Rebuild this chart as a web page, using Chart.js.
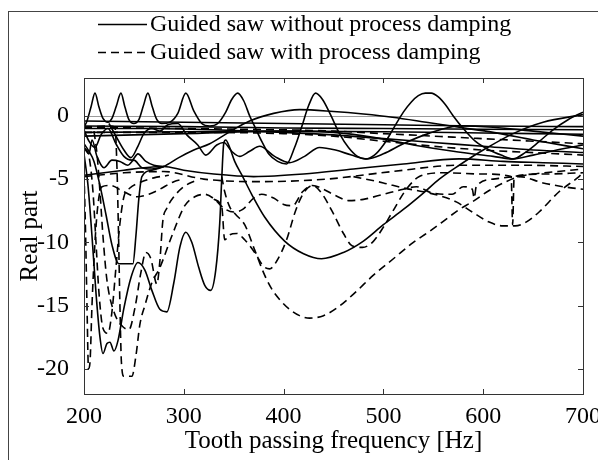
<!DOCTYPE html>
<html>
<head>
<meta charset="utf-8">
<script src="https://cdn.jsdelivr.net/npm/chart.js@4.4.1/dist/chart.umd.min.js"></script>
<style>html,body{margin:0;padding:0;background:#fff;}canvas{display:block;}</style>
</head>
<body>
<canvas id="c" width="598" height="460"></canvas>
<script>
// ---- data: [frequency Hz, real part] ----
const xTicks = [200, 300, 400, 500, 600, 700];
const yTicks = [-20, -15, -10, -5, 0];
const legendLabels = ['Guided saw without process damping', 'Guided saw with process damping'];

// solid curves (without process damping)
const solidPeaks = [[200,-0.9],[203,-0.4],[207,0.7],[211,1.8],[215,0.7],[219,-0.2],[224,-0.5],[228,-0.2],[232.5,0.8],[237,1.8],[241,0.7],[245,-0.3],[250,-0.6],[255,-0.3],[259.5,0.8],[264,1.8],[268.5,0.7],[273,-0.3],[278,-0.6],[286,-0.5],[294,0.2],[302,1.8],[310,0.4],[318,-0.6],[326,-0.8],[334,-0.6],[342,0.3],[348,1.3],[354,1.8],[360,1.2],[366,0.0],[372,-1.0],[378,-2.0],[385,-3.0],[394,-3.6],[403,-3.8],[411,-2.5],[418,-0.9],[425,0.8],[432,1.8],[439,1.3],[447,0.1],[456,-1.4],[465,-2.5],[474,-3.2],[482,-3.4],[491,-3.1],[500,-2.3],[510,-1.0],[520,0.3],[528,1.1],[535,1.6],[542,1.8],[548,1.8],[555,1.5],[562,0.9],[570,0.0],[580,-1.0],[592,-2.0],[606,-2.7],[618,-3.1],[630,-3.4],[642,-2.9],[655,-2.1],[670,-1.1],[685,-0.3],[700,0.3]];
const solidDipArc = [[200,-2.2],[205,-2.8],[210,-3.6],[216,-5.5],[222,-7.8],[228,-10.2],[235,-11.7],[249,-11.7],[252,-9.5],[255,-6.5],[258,-4.8],[268,-4.3],[280,-4.0],[295,-3.3],[310,-2.7],[326,-2.2],[345,-1.3],[366,-0.4],[390,0.2],[416,0.5],[450,0.35],[480,0.15],[509,-0.1],[543,-0.5],[576,-0.9],[610,-1.3],[650,-1.9],[700,-2.6]];
const solidDeep = [[200,-3.0],[204,-5.5],[208,-9.5],[212,-14],[216,-17.5],[219,-18.8],[223,-18.0],[226,-17.9],[230,-18.6],[234,-17.8],[240,-15.2],[247,-12.8],[254,-11.6],[261,-12.2],[268,-13.8],[276,-15.3],[283,-15.5],[290,-13.2],[296,-10.4],[302,-9.2],[308,-10.0],[315,-12.0],[321,-13.4],[327,-13.8],[332,-12.2],[336,-8.5],[338,-5.0],[340,-2.2],[342,-1.9],[346,-2.5],[351,-3.6],[359,-4.8],[368,-6.2],[381,-8.0],[401,-9.9],[420,-10.9],[438,-11.3],[460,-10.8],[480,-9.9],[500,-8.6],[520,-7.4],[540,-6.1],[556,-5.0],[576,-3.9],[600,-2.7],[630,-1.4],[660,-0.5],[700,0.1]];
const solidMid = [[200,-4.7],[220,-4.5],[240,-4.3],[260,-4.1],[280,-4.0],[300,-4.3],[330,-4.6],[370,-4.8],[420,-4.6],[470,-4.2],[520,-3.8],[576,-3.4],[620,-3.6],[660,-3.7],[700,-3.8]];
const solidWave = [[225,-0.6],[232,-1.6],[240,-2.7],[247,-3.3],[254,-2.4],[260,-1.4],[268,-1.0],[276,-1.2],[284,-0.7],[294,-0.6],[303,-1.5],[314,-2.3],[322,-3.1],[333,-2.3],[340,-2.1],[348,-2.8],[356,-3.2],[366,-2.8],[376,-2.4],[391,-3.2],[406,-3.7],[421,-3.2],[436,-2.5],[452,-2.7],[468,-3.1],[483,-3.4],[500,-3.0],[520,-2.2],[545,-1.4],[576,-0.8],[610,-0.9],[650,-1.2],[700,-1.6]];
const solidFlatA = [[200,-0.4],[300,-0.5],[400,-0.6],[500,-0.7],[600,-0.8],[700,-0.85]];
const solidFlatB = [[200,-0.8],[300,-0.85],[400,-0.95],[500,-1.0],[600,-1.05],[700,-1.1]];
const solidFlatC = [[200,-1.3],[300,-1.25],[400,-1.2],[500,-1.25],[600,-1.35],[700,-1.45]];
const solidSlope = [[200,-1.0],[260,-1.0],[330,-1.1],[400,-1.3],[450,-1.5],[500,-1.8],[550,-2.1],[600,-2.4],[650,-2.7],[700,-2.9]];
const solidVee = [[200,-1.6],[300,-1.4],[400,-1.2],[450,-1.3],[490,-1.7],[530,-2.3],[570,-2.8],[610,-3.2],[630,-3.4],[650,-3.1],[680,-2.6],[700,-2.3]];
const solidZigA = [[200,-1.1],[205,-2.0],[211,-2.5],[217,-1.5],[224,-1.0],[232,-2.2],[240,-3.2],[248,-3.5],[254,-3.0],[262,-3.6],[270,-3.9],[280,-4.0]];
const solidZigB = [[200,-2.5],[205,-3.0],[208,-1.9],[213,-3.2],[220,-4.1],[228,-3.5],[236,-3.6],[244,-3.9],[250,-3.5],[258,-4.1],[268,-4.2],[280,-4.0]];

// dashed curves (with process damping)
const dashFlatA = [[200,-0.9],[300,-1.0],[400,-1.1],[450,-1.2],[500,-1.4],[550,-1.6],[600,-1.8],[650,-2.0],[700,-2.2]];
const dashFlatB = [[200,-1.3],[300,-1.3],[400,-1.4],[450,-1.6],[500,-2.0],[550,-2.4],[600,-2.7],[650,-2.9],[700,-3.1]];
const dashMid = [[200,-4.8],[240,-4.5],[280,-4.4],[320,-5.0],[376,-5.2],[443,-5.0],[509,-4.4],[576,-3.9],[640,-3.9],[700,-4.0]];
const dashDeep = [[200,-0.9],[225,-0.8],[231,-0.9],[233,-4],[234.5,-9],[236,-15],[237.5,-19.5],[240,-20.6],[248,-20.6],[252,-19],[256,-16.5],[261,-15.0],[268,-13.2],[276,-12.0],[288,-9.5],[301,-7.1],[311,-6.4],[321,-6.2],[331,-6.6],[340,-7.3],[350,-7.6],[359,-7.4],[370,-6.5],[378,-6.2],[390,-6.5],[400,-7.0],[409,-7.1],[419,-6.0],[429,-5.5],[440,-5.8],[452,-6.3],[465,-6.7],[480,-6.6],[500,-6.2],[520,-5.8],[533,-5.6],[549,-6.1],[569,-6.2],[580,-5.6],[589,-5.8],[591,-6.5],[593,-5.6],[610,-5.0],[636,-4.8],[660,-5.3],[680,-5.6],[700,-5.8]];
const dashTrough16 = [[338,-4.8],[341,-6.0],[346,-7.2],[352,-7.8],[361,-8.6],[371,-10.6],[381,-12.6],[389,-13.8],[398,-14.7],[406,-15.3],[416,-15.8],[426,-16.0],[440,-15.8],[455,-15.1],[470,-14.1],[490,-12.6],[510,-11.3],[530,-10.0],[545,-9.2],[559,-8.4],[576,-7.4],[589,-6.8],[606,-5.9],[623,-5.2],[636,-4.8],[650,-4.6],[675,-4.4],[700,-4.2]];
const dashTrough12 = [[330,-6.6],[338,-7.2],[341,-9.8],[346,-9.4],[353,-9.3],[361,-9.8],[371,-10.8],[380,-11.9],[386,-12.1],[393,-11.5],[403,-9.8],[412,-7.5],[420,-6.1],[429,-5.5],[438,-6.1],[449,-7.6],[460,-9.3],[469,-10.3],[479,-10.4],[489,-10.0],[500,-8.8],[509,-7.6],[523,-5.8],[536,-4.8],[560,-4.5],[600,-4.6],[628,-4.8],[629.5,-8.6],[631,-4.8],[660,-4.6],[700,-4.5]];
const dashVee = [[470,-4.8],[500,-5.3],[520,-5.7],[540,-6.0],[556,-6.3],[573,-6.8],[589,-7.6],[606,-8.4],[620,-8.7],[632,-8.7],[643,-8.4],[656,-7.6],[676,-6.0],[696,-4.8],[700,-4.5]];
const dashLeftA = [[200,-4.5],[201.5,-9],[203,-15],[204.5,-20.0],[206,-19.5],[208,-15],[211,-10],[214,-7],[218,-5.6],[226,-5.5],[240,-6.0],[253,-6.4],[265,-6.2],[276,-5.8],[290,-5.2],[300,-5.0]];
const dashLeftB = [[200,-2.5],[205,-3.2],[209,-6],[212,-10],[215,-14],[219,-16.8],[224,-17.2],[228,-15.5],[232,-12],[236,-8.5],[240,-6.4],[246,-5.7],[255,-5.3],[270,-4.9],[285,-4.7]];
const dashLeftC = [[210,-1.2],[213,-3],[216,-6],[219,-9.5],[223,-13],[230,-15.5],[238,-16.6],[245,-16.9],[251,-15.2],[257,-12.4],[262,-10.8],[267,-11.3],[273,-13.3],[276,-11.5],[279,-8.3],[283,-7.3],[290,-6.4],[300,-5.6],[312,-5.1]];

const solidSeries = [solidPeaks, solidDipArc, solidDeep, solidMid, solidWave, solidFlatA, solidFlatB, solidFlatC, solidSlope, solidVee, solidZigA, solidZigB];
const dashedSeries = [dashFlatA, dashFlatB, dashMid, dashDeep, dashTrough16, dashTrough12, dashVee, dashLeftA, dashLeftB, dashLeftC];

const FONT = "'Liberation Serif', 'Times New Roman', serif";
const DASH = [8, 5];

function toPts(arr){ return arr.map(p => ({x: p[0], y: p[1]})); }
const datasets = [];
solidSeries.forEach(s => datasets.push({data: toPts(s), borderColor:'#000', borderWidth:1.6, borderDash:[], pointRadius:0, fill:false, cubicInterpolationMode:'monotone'}));
dashedSeries.forEach(s => datasets.push({data: toPts(s), borderColor:'#000', borderWidth:1.6, borderDash:DASH, pointRadius:0, fill:false, cubicInterpolationMode:'monotone'}));

const decor = {
  id: 'decor',
  beforeDatasetsDraw(chart){
    const {ctx, chartArea:a, scales:{y}} = chart;
    ctx.save();
    ctx.strokeStyle = '#9a9a9a'; ctx.lineWidth = 1;
    const y0 = Math.round(y.getPixelForValue(0)) + 0.5;
    ctx.beginPath(); ctx.moveTo(a.left, y0); ctx.lineTo(a.right, y0); ctx.stroke();
    ctx.restore();
  },
  afterDraw(chart){
    const {ctx, chartArea:a, scales:{x, y}} = chart;
    ctx.save();
    // axes box
    ctx.strokeStyle = '#333'; ctx.lineWidth = 1;
    ctx.strokeRect(Math.round(a.left)+0.5, Math.round(a.top)+0.5, Math.round(a.right-a.left), Math.round(a.bottom-a.top));
    // inward ticks
    ctx.beginPath();
    xTicks.forEach(v => { const px = Math.round(x.getPixelForValue(v))+0.5;
      ctx.moveTo(px, a.bottom); ctx.lineTo(px, a.bottom-5);
      ctx.moveTo(px, a.top); ctx.lineTo(px, a.top+5); });
    yTicks.forEach(v => { const py = Math.round(y.getPixelForValue(v))+0.5;
      ctx.moveTo(a.left, py); ctx.lineTo(a.left+5, py);
      ctx.moveTo(a.right, py); ctx.lineTo(a.right-5, py); });
    ctx.stroke();
    // outer figure frame
    ctx.strokeStyle = '#444';
    ctx.strokeRect(8.5, 11.5, 800, 800);
    // titles
    ctx.fillStyle = '#000';
    ctx.font = '25px ' + FONT;
    ctx.textAlign = 'center'; ctx.textBaseline = 'middle';
    ctx.fillText('Tooth passing frequency [Hz]', (a.left+a.right)/2, 441);
    ctx.save(); ctx.translate(30, (a.top+a.bottom)/2); ctx.rotate(-Math.PI/2);
    ctx.fillText('Real part', 0, 0); ctx.restore();
    // legend
    ctx.font = '24px ' + FONT; ctx.textAlign = 'left';
    ctx.lineWidth = 1.5; ctx.strokeStyle = '#000';
    ctx.beginPath(); ctx.moveTo(98, 24.5); ctx.lineTo(147, 24.5); ctx.stroke();
    ctx.setLineDash(DASH);
    ctx.beginPath(); ctx.moveTo(98, 52.5); ctx.lineTo(147, 52.5); ctx.stroke();
    ctx.setLineDash([]);
    ctx.fillText(legendLabels[0], 150, 25);
    ctx.fillText(legendLabels[1], 150, 53);
    ctx.restore();
  }
};

new Chart(document.getElementById('c'), {
  type: 'line',
  data: { datasets },
  options: {
    responsive: false, animation: false, devicePixelRatio: 1,
    layout: { padding: { left: 0, top: 78, right: 15, bottom: 0 } },
    plugins: { legend: { display: false }, tooltip: { enabled: false } },
    elements: { line: { borderCapStyle: 'butt', borderJoinStyle: 'round' } },
    scales: {
      x: {
        type: 'linear', min: 200, max: 700,
        grid: { display: false }, border: { display: false },
        afterBuildTicks: s => { s.ticks = xTicks.map(v => ({value: v})); },
        afterFit: s => { s.height = 66; s.paddingLeft = 0; s.paddingRight = 0; },
        ticks: { color: '#000', font: { family: FONT, size: 24 }, padding: 0, maxRotation: 0 }
      },
      y: {
        type: 'linear', min: -22, max: 3,
        grid: { display: false }, border: { display: false },
        afterBuildTicks: s => { s.ticks = yTicks.map(v => ({value: v})); },
        afterFit: s => { s.width = 84; s.paddingTop = 0; s.paddingBottom = 0; },
        ticks: { color: '#000', font: { family: FONT, size: 24 }, padding: 7 }
      }
    }
  },
  plugins: [decor]
});
</script>
</body>
</html>
